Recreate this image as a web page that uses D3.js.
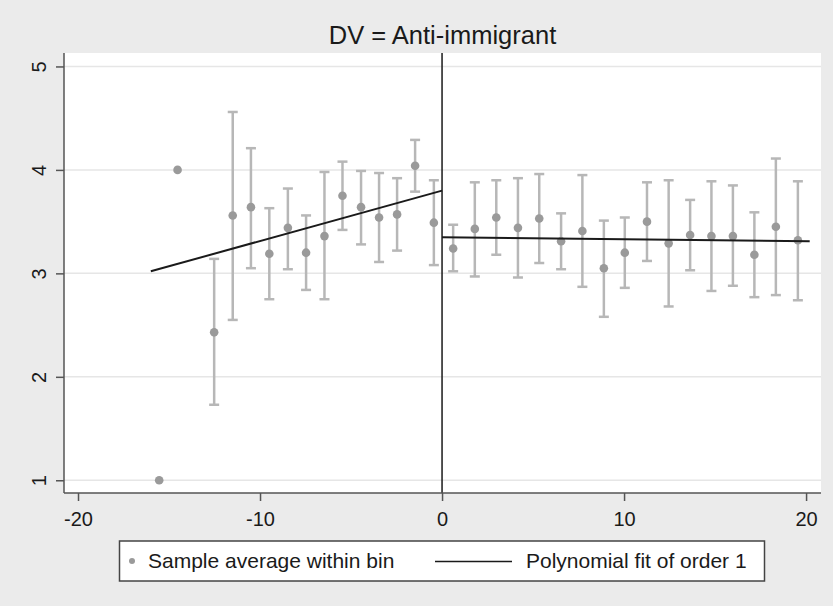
<!DOCTYPE html>
<html>
<head>
<meta charset="utf-8">
<script src="https://cdnjs.cloudflare.com/ajax/libs/d3/7.8.5/d3.min.js"></script>
<style>
  body { margin: 0; background: #ebebeb; }
  svg { display: block; font-family: "Liberation Sans", Arial, sans-serif; }
</style>
</head>
<body>
<div id="chart"></div>
<script>
// Bins left of the cutoff (first two bins have a single observation, no CI)
const leftX    = [-15.54, -14.53, -12.52, -11.5, -10.5, -9.49, -8.47, -7.47, -6.46, -5.47, -4.45, -3.46, -2.47, -1.48, -0.45];
const leftMean = [1.0, 4.0, 2.43, 3.56, 3.64, 3.19, 3.44, 3.20, 3.36, 3.75, 3.64, 3.54, 3.57, 4.04, 3.49];
const leftHi   = [null, null, 3.14, 4.56, 4.21, 3.63, 3.82, 3.56, 3.98, 4.08, 3.99, 3.97, 3.92, 4.29, 3.90];
const leftLo   = [null, null, 1.73, 2.55, 3.05, 2.75, 3.04, 2.84, 2.75, 3.42, 3.28, 3.11, 3.22, 3.79, 3.08];

// Bins right of the cutoff
const rightX    = [0.61, 1.80, 2.98, 4.17, 5.34, 6.54, 7.71, 8.89, 10.04, 11.26, 12.45, 13.63, 14.80, 15.98, 17.16, 18.34, 19.55];
const rightMean = [3.24, 3.43, 3.54, 3.44, 3.53, 3.31, 3.41, 3.05, 3.20, 3.50, 3.29, 3.37, 3.36, 3.36, 3.18, 3.45, 3.32];
const rightHi   = [3.47, 3.88, 3.90, 3.92, 3.96, 3.58, 3.95, 3.51, 3.54, 3.88, 3.90, 3.71, 3.89, 3.85, 3.59, 4.11, 3.89];
const rightLo   = [3.02, 2.97, 3.18, 2.96, 3.10, 3.04, 2.87, 2.58, 2.86, 3.12, 2.68, 3.03, 2.83, 2.88, 2.77, 2.79, 2.74];

// Linear fits on each side (endpoints)
const fitLeft  = [[-16.0, 3.02], [0, 3.80]];
const fitRight = [[0, 3.35], [20.2, 3.31]];

const xTicks = [-20, -10, 0, 10, 20];
const yTicks = [1, 2, 3, 4, 5];
const cutoff = 0;

const titleText = 'DV = Anti-immigrant';
const legendLabels = ['Sample average within bin', 'Polynomial fit of order 1'];

const W = 833, H = 606;
const plot = { left: 64, right: 821, top: 53, bottom: 493 };

const svg = d3.select('#chart').append('svg')
  .attr('width', W)
  .attr('height', H);

svg.append('rect')
  .attr('width', W).attr('height', H)
  .attr('fill', '#ebebeb');

const x = d3.scaleLinear().domain([-20.77, 20.82]).range([plot.left, plot.right]);
const y = d3.scaleLinear().domain([0.877, 5.13]).range([plot.bottom, plot.top]);

// plot region
svg.append('rect')
  .attr('x', plot.left).attr('y', plot.top)
  .attr('width', plot.right - plot.left)
  .attr('height', plot.bottom - plot.top)
  .attr('fill', '#fff');

// grid lines
svg.append('g')
  .selectAll('line')
  .data(yTicks)
  .enter().append('line')
  .attr('x1', plot.left).attr('x2', plot.right)
  .attr('y1', d => y(d)).attr('y2', d => y(d))
  .attr('stroke', '#e6e6e6')
  .attr('stroke-width', 1.5);

// title
svg.append('text')
  .attr('x', (plot.left + plot.right) / 2)
  .attr('y', 44)
  .attr('text-anchor', 'middle')
  .style('font-size', '25.5px')
  .style('fill', '#1a1a1a')
  .text(titleText);

// combine bins
const bins = leftX.map((d, i) => ({ x: d, m: leftMean[i], hi: leftHi[i], lo: leftLo[i] }))
  .concat(rightX.map((d, i) => ({ x: d, m: rightMean[i], hi: rightHi[i], lo: rightLo[i] })));
const ciBins = bins.filter(d => d.hi !== null);

// error bars
const errG = svg.append('g')
  .attr('stroke', '#b7b7b7')
  .attr('stroke-width', 2.5);

errG.selectAll('.ci')
  .data(ciBins)
  .enter().append('line')
  .attr('x1', d => x(d.x)).attr('x2', d => x(d.x))
  .attr('y1', d => y(d.hi)).attr('y2', d => y(d.lo));

errG.selectAll('.capHi')
  .data(ciBins)
  .enter().append('line')
  .attr('x1', d => x(d.x) - 5).attr('x2', d => x(d.x) + 5)
  .attr('y1', d => y(d.hi)).attr('y2', d => y(d.hi));

errG.selectAll('.capLo')
  .data(ciBins)
  .enter().append('line')
  .attr('x1', d => x(d.x) - 5).attr('x2', d => x(d.x) + 5)
  .attr('y1', d => y(d.lo)).attr('y2', d => y(d.lo));

// bin means
svg.append('g')
  .selectAll('circle')
  .data(bins)
  .enter().append('circle')
  .attr('cx', d => x(d.x))
  .attr('cy', d => y(d.m))
  .attr('r', 4.3)
  .attr('fill', '#9a9a9a');

// cutoff line
svg.append('line')
  .attr('x1', x(cutoff)).attr('x2', x(cutoff))
  .attr('y1', plot.top).attr('y2', plot.bottom)
  .attr('stroke', '#1a1a1a')
  .attr('stroke-width', 1.5);

// fitted lines
const line = d3.line().x(d => x(d[0])).y(d => y(d[1]));
[fitLeft, fitRight].forEach(f => {
  svg.append('path')
    .datum(f)
    .attr('d', line)
    .attr('fill', 'none')
    .attr('stroke', '#1a1a1a')
    .attr('stroke-width', 2);
});

// axes (plain hyphen for negatives, as in the original)
const fmt = d => String(d);

const yAxis = svg.append('g')
  .attr('transform', `translate(${plot.left},0)`)
  .call(d3.axisLeft(y).tickValues(yTicks).tickSize(8).tickSizeOuter(0).tickFormat(fmt));
yAxis.select('.domain').attr('stroke', '#555').attr('stroke-width', 1.5)
  .attr('d', `M0,${plot.top}V${plot.bottom}`);
yAxis.selectAll('.tick line').attr('stroke', '#555').attr('stroke-width', 1.5);
yAxis.selectAll('.tick text')
  .attr('x', null).attr('dy', null)
  .attr('transform', 'translate(-18,0) rotate(-90)')
  .attr('text-anchor', 'middle')
  .style('font-size', '20px')
  .style('font-family', '"Liberation Sans", Arial, sans-serif')
  .style('fill', '#1a1a1a');

const xAxis = svg.append('g')
  .attr('transform', `translate(0,${plot.bottom})`)
  .call(d3.axisBottom(x).tickValues(xTicks).tickSize(8).tickSizeOuter(0).tickFormat(fmt));
xAxis.select('.domain').attr('stroke', '#555').attr('stroke-width', 1.5)
  .attr('d', `M${plot.left},0H${plot.right}`);
xAxis.selectAll('.tick line').attr('stroke', '#555').attr('stroke-width', 1.5);
xAxis.selectAll('.tick text')
  .attr('y', 33).attr('dy', null)
  .style('font-size', '20px')
  .style('font-family', '"Liberation Sans", Arial, sans-serif')
  .style('fill', '#1a1a1a');

// legend
const lg = svg.append('g');
lg.append('rect')
  .attr('x', 119.5).attr('y', 541)
  .attr('width', 645).attr('height', 40)
  .attr('fill', '#fff')
  .attr('stroke', '#444')
  .attr('stroke-width', 1.5);
lg.append('circle')
  .attr('cx', 132).attr('cy', 561)
  .attr('r', 3)
  .attr('fill', '#9a9a9a');
lg.append('text')
  .attr('x', 148).attr('y', 568)
  .style('font-size', '21px')
  .style('fill', '#1a1a1a')
  .text(legendLabels[0]);
lg.append('line')
  .attr('x1', 435).attr('x2', 512)
  .attr('y1', 561.5).attr('y2', 561.5)
  .attr('stroke', '#1a1a1a')
  .attr('stroke-width', 1.5);
lg.append('text')
  .attr('x', 526).attr('y', 568)
  .style('font-size', '21px')
  .style('fill', '#1a1a1a')
  .text(legendLabels[1]);
</script>
</body>
</html>
